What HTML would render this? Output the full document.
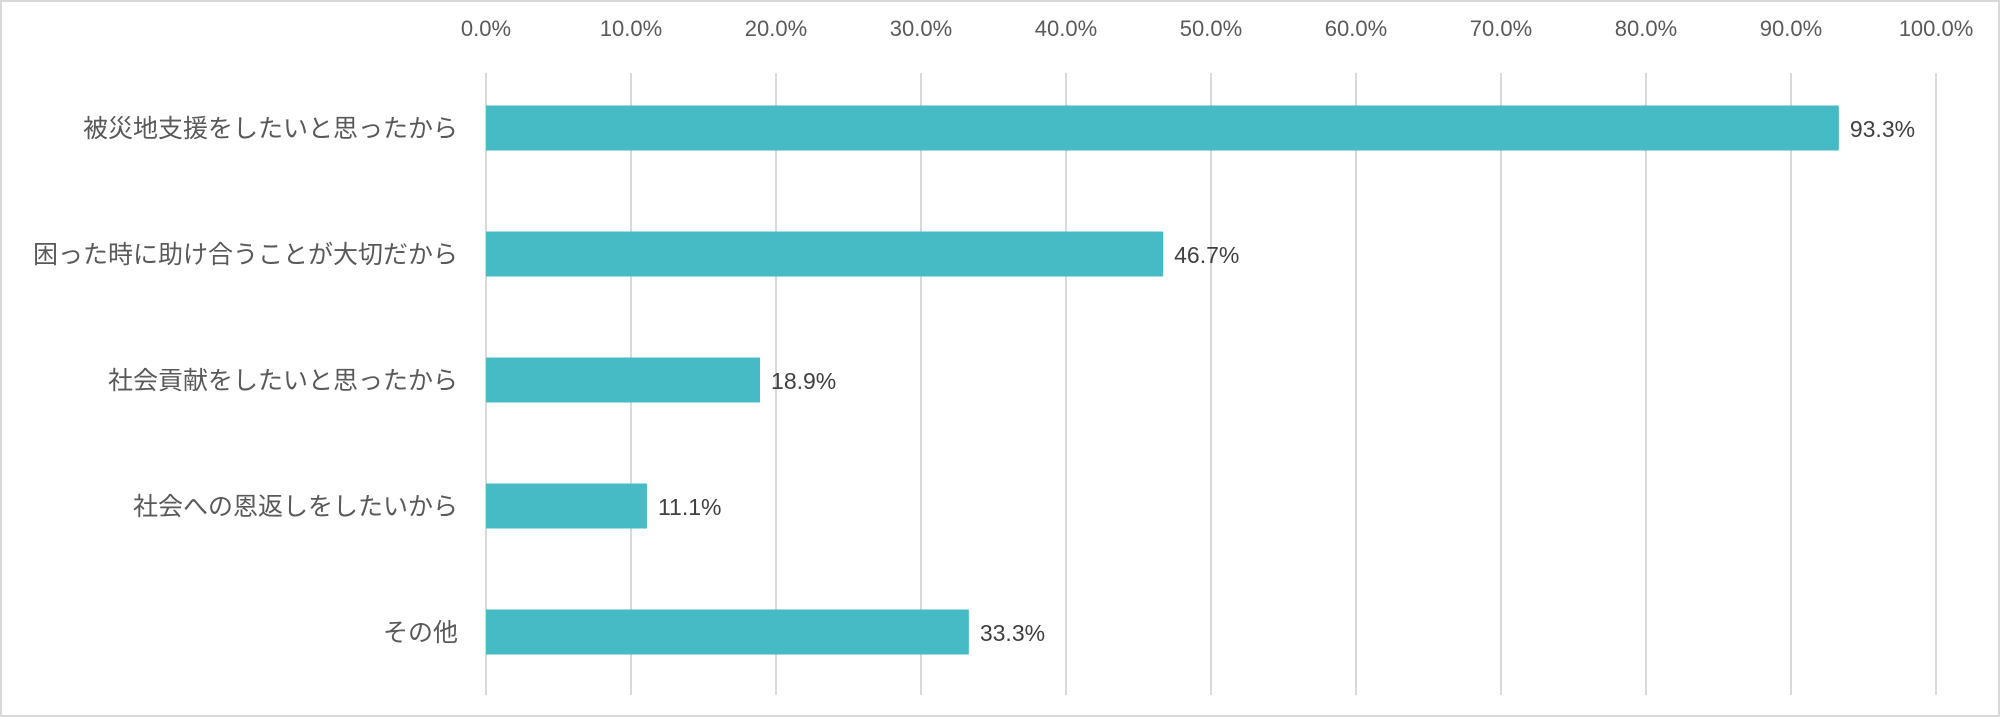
<!DOCTYPE html>
<html><head><meta charset="utf-8"><style>
html,body{margin:0;padding:0;background:#fff;}
svg{display:block;}
</style></head><body>
<svg id="chart" width="2000" height="717" xmlns="http://www.w3.org/2000/svg">
<rect x="1" y="1" width="1998" height="715" fill="#fff" stroke="#d9d9d9" stroke-width="2"/>
<g id="grid"></g><g id="ticks"></g><g id="bars"></g><g id="cats"></g><g id="vals"></g>
</svg>
<script>
const categories = ["被災地支援をしたいと思ったから","困った時に助け合うことが大切だから","社会貢献をしたいと思ったから","社会への恩返しをしたいから","その他"];
const values = [93.3, 46.7, 18.9, 11.1, 33.3];
const valueLabels = ["93.3%","46.7%","18.9%","11.1%","33.3%"];
const tickValues = [0,10,20,30,40,50,60,70,80,90,100];
const tickLabels = ["0.0%","10.0%","20.0%","30.0%","40.0%","50.0%","60.0%","70.0%","80.0%","90.0%","100.0%"];

const NS="http://www.w3.org/2000/svg";
const x0=486, x1=1936, yTop=65, yBot=695;
const band=(yBot-yTop)/categories.length, barH=45;
function xs(v){return x0+(v/100)*(x1-x0);}
function ys(i){return yTop+band*i+band/2;}
function mk(tag,attrs,parent){const e=document.createElementNS(NS,tag);for(const k in attrs)e.setAttribute(k,attrs[k]);document.getElementById(parent).appendChild(e);return e;}

tickValues.forEach((t,i)=>{
  const l=mk('line',{x1:xs(t),x2:xs(t),y1:yTop+8,y2:yBot,stroke:'#d9d9d9','stroke-width':2},'grid');
  
  
  const tx=mk('text',{x:xs(t),y:36,'text-anchor':'middle','font-family':'"Liberation Sans",sans-serif','font-size':22,fill:'#595959'},'ticks');
  tx.textContent=tickLabels[i];
  
  
});
categories.forEach((c,i)=>{
  const cy=ys(i);
  const r=mk('rect',{x:x0,y:cy-barH/2,width:xs(values[i])-x0,height:barH,fill:'#47bbc5'},'bars');
  
  
  const ct=mk('text',{x:458,y:cy+9,'text-anchor':'end','font-family':'"Liberation Sans","Noto Sans CJK JP",sans-serif','font-size':25,fill:'#595959'},'cats');
  ct.textContent=c;
  
  
  const vt=mk('text',{x:xs(values[i])+11,y:cy+9,'font-family':'"Liberation Sans",sans-serif','font-size':23,fill:'#404040'},'vals');
  vt.textContent=valueLabels[i];
  
  
});
</script>
</body></html>
